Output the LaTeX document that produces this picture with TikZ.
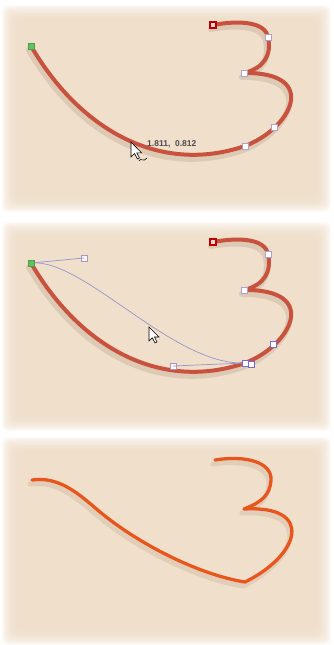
\documentclass[tikz,border=0pt]{standalone}
\usepackage{fontspec}
\newfontfamily\labfont{Liberation Sans}
\definecolor{parch}{RGB}{240,221,197}
\definecolor{curvered}{RGB}{200,82,62}
\definecolor{curveorange}{RGB}{232,86,30}
\definecolor{anchorlav}{RGB}{175,160,205}
\definecolor{anchorblue}{RGB}{120,105,215}
\definecolor{startgreen}{RGB}{95,195,95}
\definecolor{handleline}{RGB}{150,150,205}
\definecolor{shadowc}{RGB}{120,95,70}
\tikzset{
  anchorpt/.style={rectangle, draw=anchorlav, fill=white, line width=1pt, minimum size=6pt, inner sep=0pt},
  selpt/.style={anchorpt, draw=anchorblue},
  handlept/.style={anchorpt, draw=anchorlav!80!gray, fill=white!92!anchorlav},
  startpt/.style={rectangle, draw=startgreen!80!black, fill=startgreen, line width=0.8pt, minimum size=6pt, inner sep=0pt},
  endpt/.style={rectangle, draw=red!75!black, fill=white!85!red, line width=1.4pt, minimum size=6pt, inner sep=0pt},
  thickcurve/.style={draw=curvered, line width=4pt, line cap=round, line join=round},
  thincurve/.style={draw=curveorange, line width=3.3pt, line cap=round, line join=round},
  curveshadow/.style={draw=shadowc, opacity=0.16, line width=6pt, line cap=round, line join=round},
  handlestroke/.style={draw=handleline, line width=0.7pt},
  pointer/.style={fill=white, draw=black, line width=0.6pt, line join=miter},
  coordlabel/.style={font=\labfont\bfseries\fontsize{8.5}{9}\selectfont, text=black!70, inner sep=0pt}
}
\newcommand\parchpanel[4]{%
  \foreach \i in {0,...,13}{%
    \fill[parch, opacity=0.12, rounded corners=6pt] ({#1+1.1*\i},{#2+1.1*\i}) rectangle ({#3-1.1*\i},{#4-1.1*\i});
  }%
}
\newcommand\redpath{%
  (31,46) .. controls (80,130) and (160,175) .. (245,146)
          .. controls (292,128) and (320,72) .. (244,73)
          .. controls (264,68) and (272,55) .. (268,37)
          .. controls (265,22) and (240,20) .. (213,25)}
\begin{document}
\begin{tikzpicture}[x=1pt, y=-1pt]
\useasboundingbox (0,0) rectangle (333,645);
\fill[white] (0,0) rectangle (333,645);
% backgrounds
\parchpanel{2}{5}{331}{212}
\parchpanel{2}{222}{331}{431}
\parchpanel{2}{437}{331}{645}

% ---------- panel 1 ----------
\draw[curveshadow, shift={(-2,4)}] \redpath;
\draw[thickcurve] \redpath;
\node[startpt]  (p1s) at (31,46) {};
\node[endpt]    (p1e) at (213,25) {};
\node[anchorpt] (p1a) at (268,37) {};
\node[anchorpt] (p1b) at (244,73) {};
\node[anchorpt] (p1c) at (274,127) {};
\node[anchorpt] (p1d) at (245,146) {};
\node[coordlabel, anchor=west] (p1t) at (147,144) {1.811, \ 0.812};
\draw[pointer] (131,142) -- (131,157) -- (134.5,153.5) -- (137.5,159) -- (139.5,158) -- (136.8,152.8) -- (141.5,152.8) -- cycle;
\draw[black, line width=0.6pt] (139,161) .. controls (141,157) and (143,163) .. (147,158);

% ---------- panel 2 ----------
\begin{scope}[shift={(0,217)}]
\draw[curveshadow, shift={(-2,4)}] \redpath;
\draw[thickcurve] \redpath;
\node[handlept] (h1) at (84,41) {};
\node[handlept] (h2) at (173,149) {};
\coordinate (q0) at (31,46);
\coordinate (q3) at (245,146);
\draw[handlestroke] (q0) -- (h1.center);
\draw[handlestroke] (h2.center) -- (q3);
\draw[handlestroke] (q0) .. controls (h1.center) and (h2.center) .. (q3);
\node[startpt]  (p2s) at (31,46) {};
\node[endpt]    (p2e) at (213,25) {};
\node[anchorpt] (p2a) at (268,37) {};
\node[anchorpt] (p2b) at (244,73) {};
\node[selpt]    (p2c) at (273,127) {};
\node[selpt]    (p2x) at (251,147) {};
\node[selpt]    (p2d) at (245,146) {};
\draw[pointer] (149,110) -- (149,124) -- (152.3,120.8) -- (155,126) -- (157,125) -- (154.5,120) -- (159,120) -- cycle;
\end{scope}

% ---------- panel 3 ----------
\newcommand\orangepath{%
  (32,480) .. controls (60,476) and (80,495) .. (100,512)
           .. controls (140,545) and (200,575) .. (245,582)
           .. controls (300,555) and (315,505) .. (244,509)
           .. controls (262,502) and (270,495) .. (271,480)
           .. controls (272,462) and (245,455) .. (215,460)}
\draw[curveshadow, line width=5pt, opacity=0.13, shift={(-2,4)}] \orangepath;
\draw[thincurve] \orangepath;
\end{tikzpicture}
\end{document}
